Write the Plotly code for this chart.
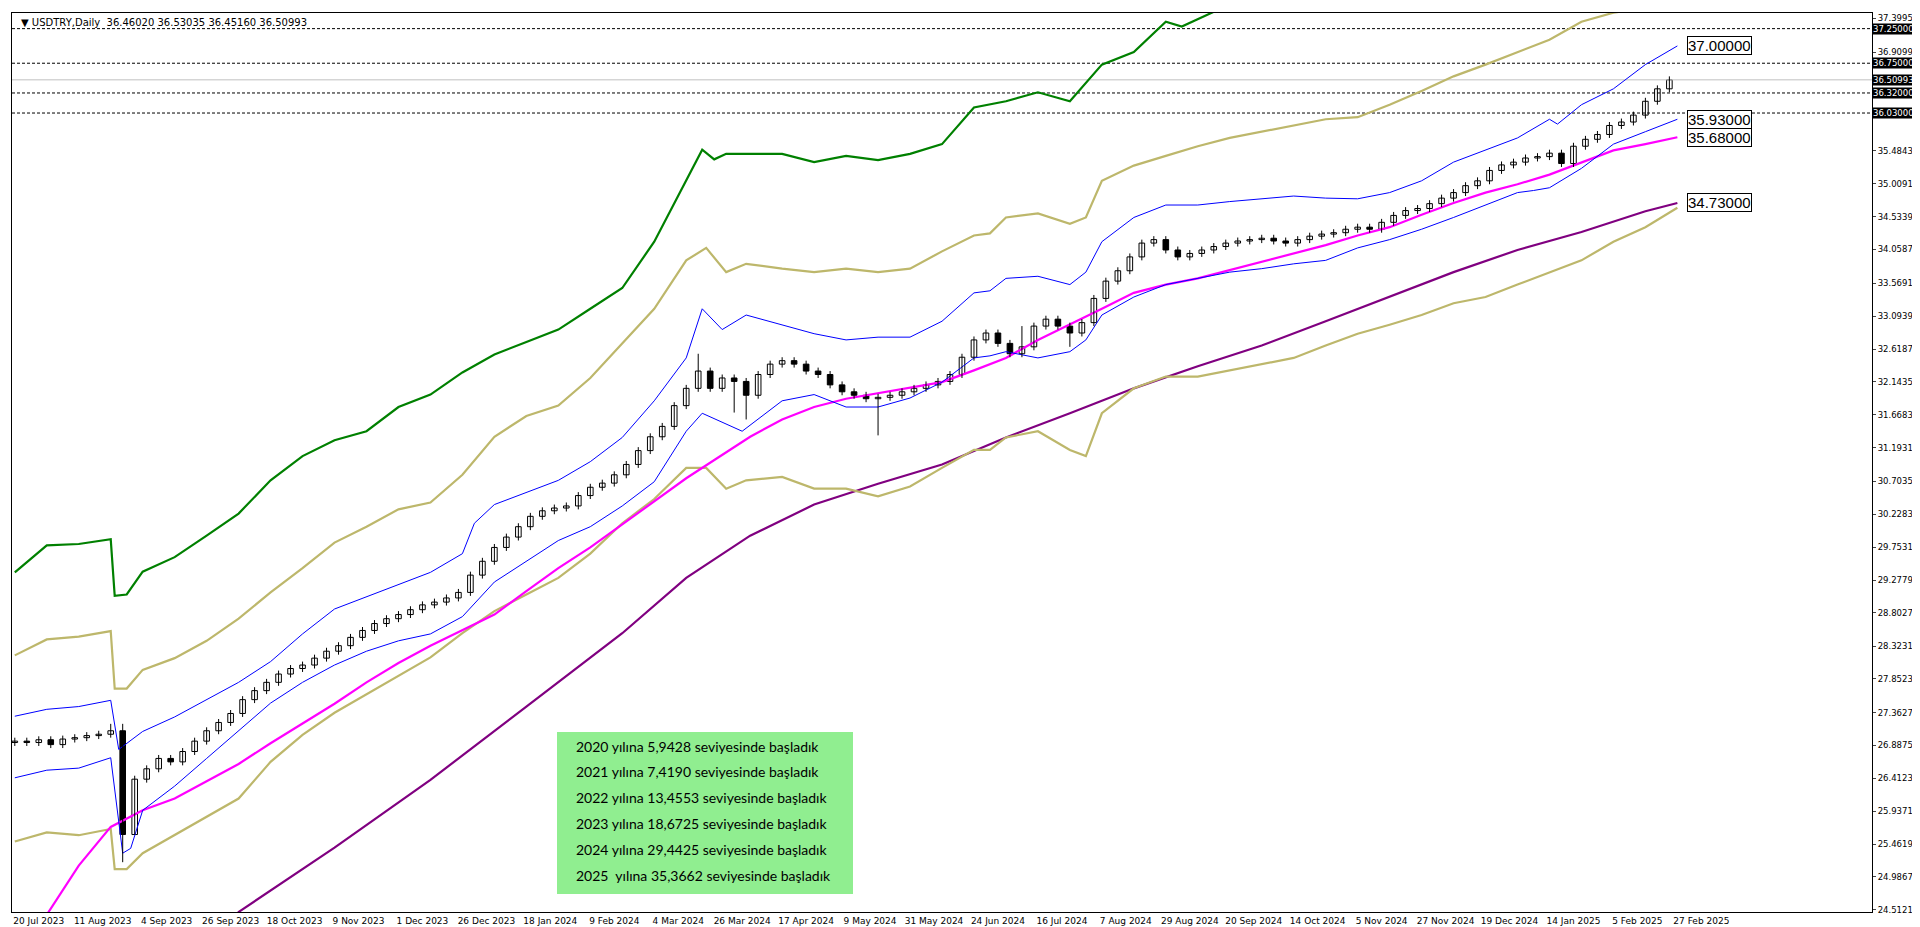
import plotly.graph_objects as go

# ---------------- data ----------------
candle_idx = list(range(0, 415, 3))
closes = [26.95,26.93,26.97,26.90,26.98,27.00,27.03,27.05,27.10,25.60,26.40,26.55,26.70,26.65,26.80,26.95,
          27.10,27.22,27.35,27.55,27.68,27.80,27.92,28.00,28.05,28.15,28.25,28.33,28.45,28.55,28.65,28.72,
          28.78,28.85,28.92,28.96,29.02,29.10,29.35,29.55,29.75,29.90,30.05,30.20,30.28,30.32,30.35,30.50,
          30.62,30.68,30.80,30.95,31.15,31.35,31.50,31.80,32.05,32.30,32.05,32.20,32.15,31.95,32.25,32.40,
          32.45,32.40,32.30,32.25,32.10,32.00,31.95,31.90,31.92,31.95,32.00,32.05,32.10,32.15,32.25,32.50,
          32.75,32.85,32.70,32.55,32.65,32.95,33.05,32.95,32.85,33.00,33.35,33.60,33.75,33.95,34.15,34.20,
          34.05,33.95,34.00,34.05,34.10,34.15,34.18,34.20,34.22,34.18,34.15,34.20,34.25,34.28,34.30,34.35,
          34.38,34.35,34.45,34.55,34.62,34.65,34.72,34.80,34.88,34.98,35.05,35.20,35.28,35.32,35.38,35.40,
          35.45,35.30,35.55,35.65,35.72,35.85,35.90,36.00,36.20,36.38,36.51]
first_open = 26.93
wick = 0.05
extra_high = {24: 27.20, 27: 27.20, 171: 32.55, 252: 32.95}
extra_low = {27: 25.20, 30: 25.90, 180: 31.70, 183: 31.60, 216: 31.37, 264: 32.65}

green_i = [0,8,16,24,25,28,32,40,48,56,64,72,80,88,96,104,112,120,128,136,144,152,160,168,172,175,178,
           184,192,200,208,216,224,232,240,248,256,264,272,280,288,292,296,304,312]
green_p = [29.39,29.78,29.80,29.87,29.05,29.07,29.40,29.61,29.92,30.24,30.72,31.07,31.30,31.43,31.78,31.96,
           32.28,32.54,32.72,32.90,33.20,33.50,34.17,35.05,35.50,35.36,35.44,35.44,35.44,35.32,35.41,35.35,
           35.44,35.58,36.11,36.20,36.33,36.20,36.73,36.91,37.35,37.28,37.39,37.60,37.80]

oliveU_i = [0,8,16,24,25,28,32,40,48,56,64,72,80,88,96,104,112,120,128,136,144,152,160,168,173,178,183,
            192,200,208,216,224,232,240,244,248,256,264,268,272,280,288,296,304,312,320,328,336,344,352,
            360,368,376,384,392,400,408,416]
oliveU_p = [28.19,28.42,28.46,28.54,27.71,27.71,27.98,28.15,28.40,28.72,29.10,29.45,29.82,30.05,30.30,30.40,
            30.80,31.35,31.65,31.80,32.20,32.70,33.20,33.90,34.08,33.73,33.85,33.78,33.73,33.78,33.73,33.78,
            34.03,34.26,34.29,34.52,34.58,34.43,34.52,35.05,35.27,35.41,35.55,35.67,35.76,35.85,35.94,35.97,
            36.15,36.35,36.56,36.73,36.91,37.09,37.35,37.48,37.55,37.60]

oliveL_i = oliveU_i
oliveL_p = [25.50,25.63,25.59,25.68,25.10,25.10,25.33,25.59,25.86,26.12,26.65,27.04,27.36,27.63,27.89,28.16,
            28.51,28.83,29.07,29.31,29.66,30.10,30.45,30.90,30.90,30.60,30.72,30.77,30.60,30.60,30.49,30.63,
            30.90,31.16,31.16,31.34,31.43,31.16,31.07,31.69,32.05,32.22,32.22,32.31,32.40,32.49,32.67,32.84,
            32.97,33.11,33.28,33.37,33.55,33.73,33.90,34.17,34.38,34.66]

blueU_i = [0,8,16,24,26,32,40,48,56,64,72,80,88,96,104,112,115,120,128,136,144,152,160,168,172,177,183,
           192,200,208,216,224,232,240,244,248,256,264,268,272,280,288,296,304,312,320,328,336,344,352,360,
           368,376,384,386,392,400,408,416]
blueU_p = [27.31,27.41,27.45,27.54,26.83,27.09,27.30,27.55,27.80,28.10,28.50,28.86,29.04,29.22,29.39,29.66,
           30.10,30.37,30.54,30.72,30.99,31.34,31.87,32.49,33.20,32.90,33.11,32.97,32.84,32.75,32.79,32.79,
           33.02,33.43,33.46,33.64,33.67,33.55,33.73,34.17,34.52,34.70,34.70,34.75,34.79,34.83,34.80,34.79,
           34.88,35.05,35.32,35.49,35.67,35.94,35.87,36.15,36.38,36.73,37.00]

blueL_i = [0,8,16,24,27,29,32,40,48,56,64,72,80,88,96,104,112,120,128,136,144,152,160,168,172,182,192,200,
           208,216,224,232,240,244,248,256,264,268,272,280,288,296,304,312,320,328,336,344,352,360,368,376,
           380,384,392,400,408,416]
blueL_p = [26.42,26.53,26.56,26.71,25.33,25.40,25.95,26.30,26.70,27.10,27.50,27.80,28.05,28.25,28.40,28.50,
           28.75,29.25,29.55,29.85,30.05,30.35,30.70,31.43,31.69,31.43,31.87,31.96,31.78,31.78,31.91,32.14,
           32.49,32.52,32.58,32.49,32.58,32.75,33.11,33.37,33.55,33.64,33.73,33.78,33.85,33.90,34.08,34.20,
           34.35,34.52,34.70,34.88,34.91,34.95,35.23,35.58,35.76,35.94]

ma_i = [6,8,16,24,32,40,48,56,64,72,80,88,96,104,112,120,128,136,144,152,160,168,176,184,192,200,208,216,
        224,232,240,248,256,264,272,280,288,296,304,312,320,328,336,344,352,360,368,376,384,392,400,408,416]
ma_p = [24.20,24.44,25.15,25.71,25.95,26.12,26.37,26.62,26.92,27.20,27.49,27.80,28.08,28.33,28.55,28.78,
        29.12,29.45,29.75,30.08,30.42,30.75,31.05,31.35,31.60,31.78,31.90,31.98,32.05,32.14,32.31,32.49,
        32.75,32.97,33.20,33.43,33.55,33.64,33.76,33.87,33.99,34.12,34.26,34.38,34.56,34.73,34.88,35.00,
        35.14,35.32,35.49,35.58,35.68]

slow_i = [54,56,80,104,128,152,168,184,200,216,232,248,264,280,296,312,328,344,360,376,392,408,416]
slow_p = [24.30,24.48,25.41,26.39,27.45,28.51,29.31,29.92,30.37,30.67,30.95,31.34,31.69,32.05,32.37,32.67,
          33.02,33.37,33.73,34.05,34.31,34.61,34.73]

date_labels = ["20 Jul 2023","11 Aug 2023","4 Sep 2023","26 Sep 2023","18 Oct 2023","9 Nov 2023","1 Dec 2023",
               "26 Dec 2023","18 Jan 2024","9 Feb 2024","4 Mar 2024","26 Mar 2024","17 Apr 2024","9 May 2024",
               "31 May 2024","24 Jun 2024","16 Jul 2024","7 Aug 2024","29 Aug 2024","20 Sep 2024","14 Oct 2024",
               "5 Nov 2024","27 Nov 2024","19 Dec 2024","14 Jan 2025","5 Feb 2025","27 Feb 2025"]
price_ticks = [37.39950,36.90990,35.48430,35.00910,34.53390,34.05870,33.56910,33.09390,32.61870,32.14350,
               31.66830,31.19310,30.70350,30.22830,29.75310,29.27790,28.80270,28.32310,27.85230,27.36270,
               26.88750,26.41230,25.93710,25.46190,24.98670,24.51210]
hlines = [37.25, 36.75, 36.32, 36.03]
bid = 36.50993
axis_labels = [37.25, 36.75, 36.50993, 36.32, 36.03]
level_labels = [37.0, 35.93, 35.68, 34.73]
notes = ["2020 yılına 5,9428 seviyesinde başladık","2021 yılına 7,4190 seviyesinde başladık",
         "2022 yılına 13,4553 seviyesinde başladık","2023 yılına 18,6725 seviyesinde başladık",
         "2024 yılına 29,4425 seviyesinde başladık","2025  yılına 35,3662 seviyesinde başladık"]

# ---------------- figure ----------------
fig = go.Figure()
XR = [-0.7, 464.7]

for lv in hlines:
    fig.add_trace(go.Scatter(x=XR, y=[lv, lv], mode="lines", line=dict(color="black", width=1, dash="3px,2px"),
                             hoverinfo="skip"))
fig.add_trace(go.Scatter(x=XR, y=[bid, bid], mode="lines", line=dict(color="#C0C0C0", width=1), hoverinfo="skip"))

def line(xs, ys, color, w):
    fig.add_trace(go.Scatter(x=xs, y=ys, mode="lines", line=dict(color=color, width=w), hoverinfo="skip"))

line(slow_i, slow_p, "#800080", 2.2)
line(oliveU_i, oliveU_p, "#BDB76B", 2.2)
line(oliveL_i, oliveL_p, "#BDB76B", 2.2)
line(green_i, green_p, "#008000", 2.2)
line(ma_i, ma_p, "#FF00FF", 2.2)
line(blueU_i, blueU_p, "#0000FF", 1)
line(blueL_i, blueL_p, "#0000FF", 1)

opens = [first_open] + closes[:-1]
wx, wy = [], []
bx_up, bb_up, bh_up, bx_dn, bb_dn, bh_dn = [], [], [], [], [], []
for i, o, c in zip(candle_idx, opens, closes):
    hi = max(extra_high.get(i, max(o, c) + wick), max(o, c))
    lo = min(extra_low.get(i, min(o, c) - wick), min(o, c))
    wx += [i, i, None]; wy += [lo, hi, None]
    h = max(abs(c - o), 0.012)
    if c >= o:
        bx_up.append(i); bb_up.append(min(o, c)); bh_up.append(h)
    else:
        bx_dn.append(i); bb_dn.append(min(o, c)); bh_dn.append(h)
fig.add_trace(go.Scatter(x=wx, y=wy, mode="lines", line=dict(color="black", width=1), hoverinfo="skip"))
fig.add_trace(go.Bar(x=bx_up, y=bh_up, base=bb_up, width=1.4, marker=dict(color="white", line=dict(color="black", width=1))))
fig.add_trace(go.Bar(x=bx_dn, y=bh_dn, base=bb_dn, width=1.4, marker=dict(color="black", line=dict(color="black", width=1))))

ann = []
ann.append(dict(xref="paper", yref="paper", x=0.004, y=0.998, xanchor="left", yanchor="top", showarrow=False,
                text="▼ USDTRY,Daily  36.46020 36.53035 36.45160 36.50993",
                font=dict(family="DejaVu Sans", size=10, color="black")))
for v in axis_labels:
    ann.append(dict(xref="paper", yref="y", x=1.0, y=v, xanchor="left", showarrow=False, text=f"{v:.5f}",
                    bgcolor="black", font=dict(family="DejaVu Sans", size=8.5, color="white"), borderpad=0))
for v in level_labels:
    ann.append(dict(xref="x", yref="y", x=418.5, y=v, xanchor="left", showarrow=False, text=f"{v:.5f}",
                    bgcolor="white", bordercolor="black", borderwidth=1, borderpad=0,
                    font=dict(family="Liberation Sans", size=15, color="black")))
H = 899.0
def py(real_y):
    return 1 - (real_y - 5) / H
def px(real_x):
    return (real_x - 4) / 1860.0
shapes = [dict(type="rect", xref="paper", yref="paper", x0=px(549), x1=px(845), y0=py(886), y1=py(724),
               fillcolor="#90EE90", line=dict(width=0), layer="above")]
for k, t in enumerate(notes):
    ann.append(dict(xref="paper", yref="paper", x=px(566), y=py(738 + 25.8 * k), xanchor="left", yanchor="middle",
                    showarrow=False, text=t, font=dict(family="Lato", size=14, color="black")))

fig.update_layout(
    width=1920, height=927, margin=dict(l=4, r=56, t=5, b=23),
    paper_bgcolor="white", plot_bgcolor="white", showlegend=False, barmode="overlay",
    annotations=ann, shapes=shapes,
    xaxis=dict(range=XR, showgrid=False, zeroline=False, showline=True, linecolor="black", mirror=True,
               tickmode="array", tickvals=[16 * k + 6 for k in range(len(date_labels))], ticktext=date_labels,
               ticks="", tickfont=dict(family="DejaVu Sans", size=9, color="black")),
    yaxis=dict(range=[24.48, 37.476], side="right", showgrid=False, zeroline=False, showline=True,
               linecolor="black", mirror=True, tickmode="array", tickvals=price_ticks,
               ticktext=[f"{v:.5f}" for v in price_ticks], ticks="outside", ticklen=3,
               tickfont=dict(family="DejaVu Sans", size=8.5, color="black")),
)
fig.write_html("out.html")
